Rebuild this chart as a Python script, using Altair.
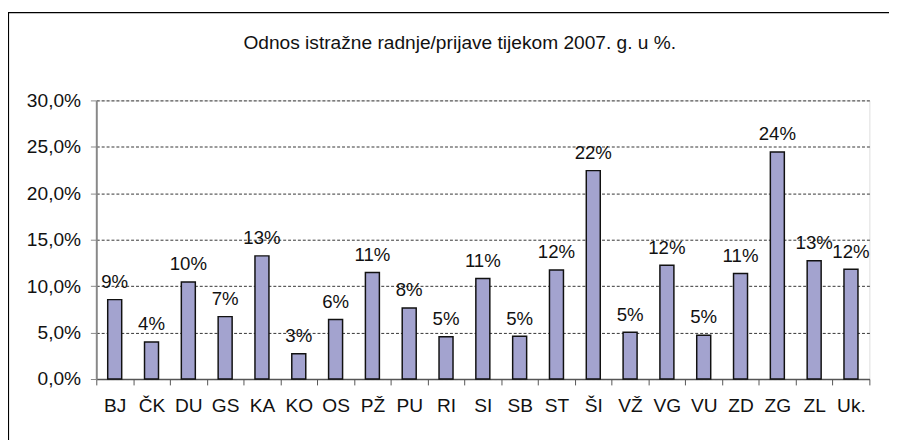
import altair as alt
import pandas as pd

categories = ["BJ", "ČK", "DU", "GS", "KA", "KO", "OS", "PŽ", "PU", "RI", "SI",
              "SB", "ST", "ŠI", "VŽ", "VG", "VU", "ZD", "ZG", "ZL", "Uk."]
values_pct = [8.55, 3.98, 10.44, 6.72, 13.26, 2.71, 6.4, 11.47, 7.64, 4.55, 10.83,
              4.6, 11.75, 22.44, 5.03, 12.24, 4.72, 11.36, 24.44, 12.73, 11.81]
title_text = "Odnos istražne radnje/prijave tijekom 2007. g. u %."
y_ticks = [0, 0.05, 0.10, 0.15, 0.20, 0.25, 0.30]

df = pd.DataFrame({"cat": categories, "v": [p / 100 for p in values_pct]})

FONT = "Liberation Sans"
W, H = 788, 284

x = alt.X("cat:N", sort=categories, title=None,
          scale=alt.Scale(paddingInner=0, paddingOuter=0),
          axis=alt.Axis(labelAngle=0, tickBand="extent", tickSize=6,
                        labelFontSize=19.5, labelFont=FONT, labelColor="#111",
                        labelPadding=12, domainColor="#555", tickColor="#555",
                        domainWidth=1.5, tickWidth=1, grid=False))
y = alt.Y("v:Q", title=None,
          scale=alt.Scale(domain=[0, 0.30], nice=False),
          axis=alt.Axis(values=y_ticks, tickSize=6, labelFontSize=19.5, labelFont=FONT,
                        labelColor="#111", labelPadding=10,
                        labelExpr="replace(format(datum.value, '.1%'), '.', ',')",
                        domainColor="#888", domainWidth=2, tickColor="#888",
                        grid=True, gridColor="#333", gridDash=[3, 2], gridWidth=1))

bars = alt.Chart(df).mark_bar(
    color="#A3A3CF", stroke="#111", strokeWidth=1.5,
    width=alt.RelativeBandSize(0.38)
).encode(x=x, y=y)

labels = alt.Chart(df).mark_text(
    dy=-12, baseline="alphabetic", align="center", fontSize=19, font=FONT, color="#111"
).encode(x=alt.X("cat:N", sort=categories), y="v:Q",
         text=alt.Text("v:Q", format=".0%"))

one = pd.DataFrame({"t": [title_text]})

frame = alt.Chart(one).mark_rect(
    fill=None, stroke="#000", strokeWidth=1.2
).encode(x=alt.value(-89.5), y=alt.value(-89.5), x2=alt.value(W + 30), y2=alt.value(H + 80))

title = alt.Chart(one).mark_text(
    align="left", baseline="alphabetic", fontSize=19.5, font=FONT, color="#111"
).encode(x=alt.value(150), y=alt.value(-52), text="t:N")

chart = alt.layer(frame, title, bars, labels).properties(
    width=W, height=H,
    padding={"left": 90, "top": 90, "right": 20, "bottom": 60},
    autosize="none",
).configure_view(stroke="#8a8a8a", strokeWidth=2).configure(background="white")

chart.save("out.html", embed_options={"renderer": "svg", "actions": False})
